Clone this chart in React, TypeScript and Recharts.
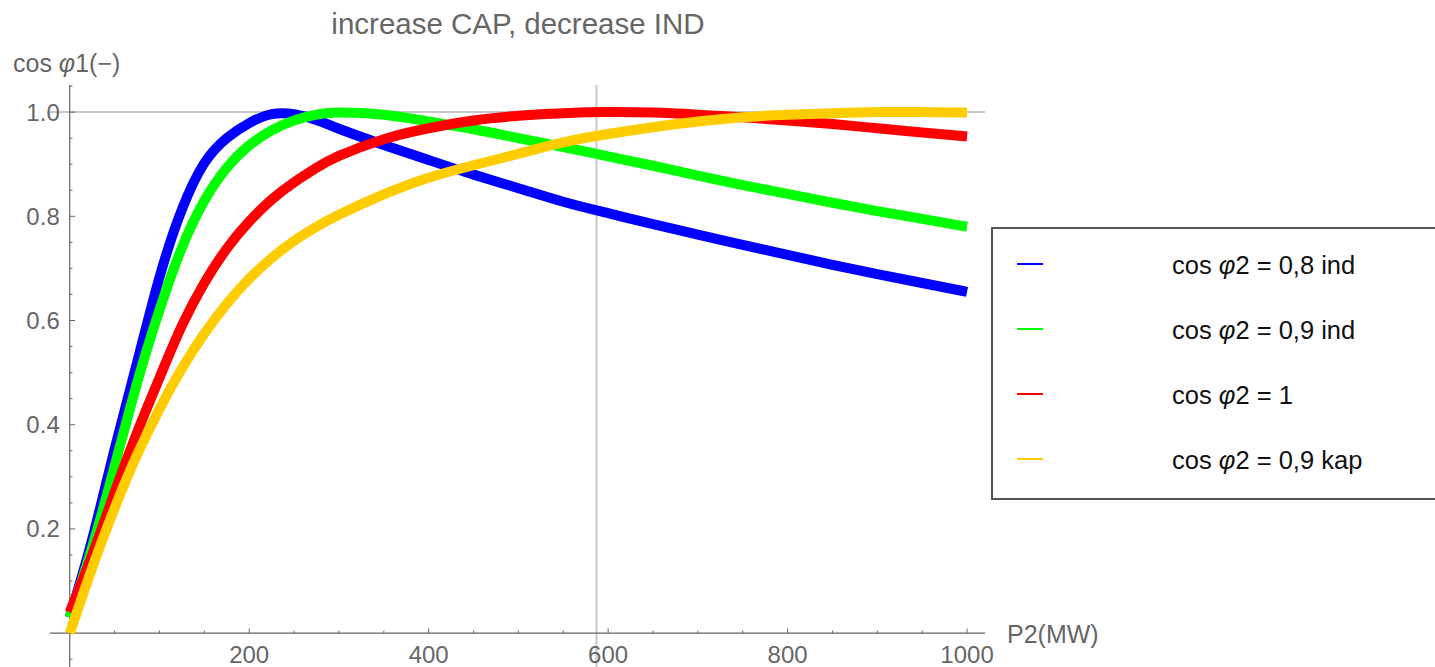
import { LineChart, Line, XAxis, YAxis, ReferenceLine, ReferenceDot } from "recharts";

// P2 in MW
const pValues = [
  0, 25, 50, 75, 100, 125, 150, 175, 200, 225, 250, 275, 300, 350, 400, 450,
  500, 550, 600, 650, 700, 750, 800, 850, 900, 950, 1000,
];

// cos phi1 for each load case
const cos08ind = [
  0.03, 0.18, 0.353, 0.519, 0.683, 0.813, 0.902, 0.95, 0.979, 0.996, 0.996,
  0.985, 0.968, 0.937, 0.908, 0.88, 0.854, 0.828, 0.806, 0.785, 0.765, 0.745,
  0.726, 0.707, 0.689, 0.672, 0.655,
];
const cos09ind = [
  0.03, 0.165, 0.32, 0.48, 0.62, 0.74, 0.83, 0.893, 0.936, 0.965, 0.984,
  0.995, 0.999, 0.995, 0.982, 0.967, 0.95, 0.933, 0.915, 0.897, 0.878, 0.86,
  0.843, 0.826, 0.81, 0.795, 0.78,
];
const cos1 = [
  0.04, 0.15, 0.27, 0.385, 0.49, 0.59, 0.672, 0.738, 0.79, 0.832, 0.865,
  0.893, 0.916, 0.948, 0.969, 0.984, 0.993, 0.998, 1.0, 0.999, 0.995, 0.99,
  0.984, 0.977, 0.969, 0.961, 0.953,
];
const cos09kap = [
  0.0, 0.125, 0.24, 0.342, 0.43, 0.508, 0.575, 0.632, 0.68, 0.72, 0.753, 0.78,
  0.803, 0.842, 0.874, 0.898, 0.92, 0.942, 0.958, 0.971, 0.982, 0.99, 0.995,
  0.998, 1.0, 1.0, 0.999,
];

const seriesKeys = ["ind08", "ind09", "one", "kap09"];
const seriesLabels = ["0,8 ind", "0,9 ind", "1", "0,9 kap"];
const seriesColors = ["#0000ff", "#00ff00", "#ff0000", "#ffcc00"];
const seriesValues = [cos08ind, cos09ind, cos1, cos09kap];

const xMajorTicks = [200, 400, 600, 800, 1000];
const xMinorTicks = [50, 100, 150, 250, 300, 350, 450, 500, 550, 650, 700, 750, 850, 900, 950];
const yMajorTicks = [0.2, 0.4, 0.6, 0.8, 1.0];
const yMinorTicks = [-0.05, 0.05, 0.1, 0.15, 0.25, 0.3, 0.35, 0.45, 0.5, 0.55, 0.65, 0.7, 0.75, 0.85, 0.9, 0.95, 1.05];

const data = pValues.map((p, i) => {
  const row: Record<string, number> = { p };
  seriesKeys.forEach((k, s) => {
    row[k] = seriesValues[s][i];
  });
  return row;
});

const FONT = "'Liberation Sans', Arial, sans-serif";
const AXIS = "#666666";
const GRID = "#c8c8c8";

export default function App() {
  return (
    <div
      style={{
        position: "absolute",
        left: 0,
        top: 0,
        width: 1435,
        height: 667,
        overflow: "hidden",
        background: "#fff",
        fontFamily: FONT,
      }}
    >
      <div
        style={{
          position: "absolute",
          left: 0,
          width: 1036,
          top: 9,
          textAlign: "center",
          fontSize: 29.5,
          lineHeight: 1,
          color: AXIS,
        }}
      >
        increase CAP, decrease IND
      </div>
      <div style={{ position: "absolute", left: 13, top: 51, fontSize: 25, lineHeight: 1, color: AXIS, whiteSpace: "nowrap" }}>
        cos <i>φ</i>1(−)
      </div>
      <div style={{ position: "absolute", left: 1007, top: 622, fontSize: 25, lineHeight: 1, color: AXIS, whiteSpace: "nowrap" }}>
        P2(MW)
      </div>

      <LineChart
        width={1435}
        height={667}
        data={data}
        margin={{ top: 85, right: 450, bottom: 0, left: 50 }}
      >
        <XAxis dataKey="p" type="number" domain={[-22, 1020]} allowDataOverflow hide />
        <YAxis type="number" domain={[-0.065, 1.052]} allowDataOverflow hide />

        <ReferenceLine y={1} stroke={GRID} strokeWidth={2} />
        <ReferenceLine x={587} stroke={GRID} strokeWidth={2} />

        <ReferenceLine y={0} stroke={AXIS} strokeWidth={1.2} />
        <ReferenceLine x={0} stroke={AXIS} strokeWidth={1.2} />

        {xMinorTicks.map((t) => (
          <ReferenceLine
            key={`xm-${t}`}
            segment={[{ x: t, y: 0 }, { x: t, y: 0.005 }]}
            stroke={AXIS}
            ifOverflow="visible"
          />
        ))}
        {xMajorTicks.map((t) => (
          <ReferenceLine
            key={`xM-${t}`}
            segment={[{ x: t, y: 0 }, { x: t, y: 0.009 }]}
            stroke={AXIS}
            ifOverflow="visible"
          />
        ))}
        {yMinorTicks.map((t) => (
          <ReferenceLine
            key={`ym-${t}`}
            segment={[{ x: 0, y: t }, { x: 3, y: t }]}
            stroke={AXIS}
            ifOverflow="visible"
          />
        ))}
        {yMajorTicks.map((t) => (
          <ReferenceLine
            key={`yM-${t}`}
            segment={[{ x: 0, y: t }, { x: 6, y: t }]}
            stroke={AXIS}
            ifOverflow="visible"
          />
        ))}

        {seriesKeys.map((k, s) => (
          <Line
            key={k}
            type="natural"
            dataKey={k}
            stroke={seriesColors[s]}
            strokeWidth={10}
            dot={false}
            activeDot={false}
            isAnimationActive={false}
          />
        ))}

        {xMajorTicks.map((t) => (
          <ReferenceDot
            key={`xl-${t}`}
            x={t}
            y={0}
            r={0}
            fill="none"
            stroke="none"
            ifOverflow="visible"
            label={{ value: String(t), position: "bottom", offset: 13, fill: AXIS, fontSize: 24, fontFamily: FONT }}
          />
        ))}
        {yMajorTicks.map((t) => (
          <ReferenceDot
            key={`yl-${t}`}
            x={0}
            y={t}
            r={0}
            fill="none"
            stroke="none"
            ifOverflow="visible"
            label={{ value: t.toFixed(1), position: "left", offset: 10, fill: AXIS, fontSize: 24, fontFamily: FONT }}
          />
        ))}
      </LineChart>

      <div
        style={{
          position: "absolute",
          left: 991,
          top: 227,
          width: 500,
          height: 269,
          border: "2px solid #555",
        }}
      />
      {seriesKeys.map((k, s) => (
        <div key={`lg-${k}`}>
          <div
            style={{
              position: "absolute",
              left: 1017,
              top: 263 + s * 65,
              width: 26,
              height: 2,
              background: seriesColors[s],
            }}
          />
          <div
            style={{
              position: "absolute",
              left: 1172,
              top: 253 + s * 65,
              fontSize: 25.5,
              lineHeight: 1,
              color: "#111",
              whiteSpace: "nowrap",
            }}
          >
            cos <i>φ</i>2 = {seriesLabels[s]}
          </div>
        </div>
      ))}
    </div>
  );
}
